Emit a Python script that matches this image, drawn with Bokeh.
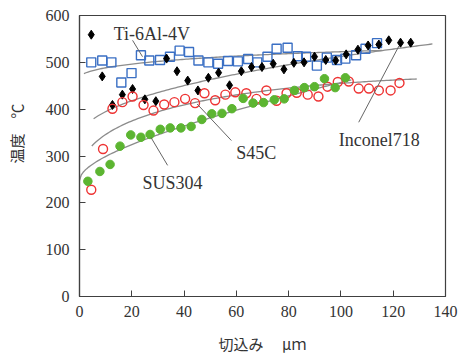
import numpy as np
from bokeh.plotting import figure
from bokeh.models import Range1d, FixedTicker, ColumnDataSource
from bokeh.core.properties import value
from bokeh.embed import file_html
from bokeh.resources import INLINE

# ---- data ----
ti_x = [4.5, 8.7, 12.2, 16.0, 19.9, 23.5, 26.7, 30.8, 34.6, 38.3, 41.9, 45.5, 49.3, 53.0, 56.8,
        60.6, 64.5, 68.0, 71.9, 75.4, 79.6, 83.5, 86.7, 90.8, 94.6, 98.5, 101.7, 105.8, 109.4, 113.8]
ti_y = [500, 504, 500, 457, 477, 515, 504, 505, 512, 525, 522, 504, 500, 497, 503,
        502, 507, 500, 512, 529, 531, 513, 512, 493, 510, 505, 508, 515, 529, 541]

inc_x = [4.5, 8.7, 12.6, 16.4, 20.3, 25.0, 29.2, 33.3, 37.3, 41.4, 45.3, 49.3, 53.2, 57.4, 61.9, 65.8,
         69.8, 74.1, 78.2, 82.0, 85.9, 89.9, 94.2, 98.0, 102.0, 106.5, 110.4, 114.5, 118.3, 122.8, 126.7]
inc_y = [559, 470, 409, 431, 443, 421, 417, 508, 481, 461, 440, 467, 478, 451, 481, 490,
         490, 497, 485, 499, 500, 512, 505, 504, 517, 527, 536, 538, 547, 542, 542]

s45_x = [4.5, 9.0, 12.6, 16.4, 20.3, 24.5, 28.3, 32.4, 36.3, 40.4, 44.2, 47.8, 51.9, 55.8, 59.6, 63.8,
         67.7, 71.5, 75.4, 79.2, 83.1, 87.3, 91.4, 94.9, 98.8, 103.0, 106.8, 110.7, 114.5, 119.0, 122.4]
s45_y = [228, 315, 401, 415, 427, 409, 397, 410, 415, 422, 413, 434, 419, 431, 436, 434,
         422, 440, 418, 434, 435, 431, 427, 448, 458, 459, 444, 444, 440, 440, 456]

sus_x = [3.2, 7.8, 11.7, 15.5, 19.6, 23.5, 27.0, 30.9, 34.7, 38.8, 42.7, 46.8, 50.6, 54.5, 58.3, 62.6,
         66.4, 70.4, 74.5, 78.3, 82.2, 86.0, 89.9, 93.7, 97.8, 101.7]
sus_y = [246, 267, 282, 321, 345, 340, 346, 357, 360, 360, 363, 378, 390, 391, 401, 423,
         413, 414, 420, 422, 440, 446, 448, 465, 446, 467]

# trend curves: points
ti_curve_x = [1.7, 36, 73.5, 115.8]
ti_curve_y = [476, 504, 518, 525]
inc_curve_x = [5.4, 38, 73.5, 135]
inc_curve_y = [379, 450, 486, 540]
s45_curve_x = [4.7, 45, 73.5, 129]
s45_curve_y = [322, 411, 446, 463]
sus_curve_x = [0, 27.3, 36.9, 75.4, 104]
sus_curve_y = [248, 338, 358, 426, 460]

x_ticks = [0, 20, 40, 60, 80, 100, 120, 140]
y_ticks = [0, 100, 200, 300, 400, 500, 600]

label_text = ["Ti-6Al-4V", "S45C", "SUS304", "Inconel718"]
label_x = [13.1, 60.0, 24.1, 99.2]
label_y = [560, 306, 243, 334]
leader_x0 = [20.3, 45.0, 27.3, 106.8]
leader_y0 = [547, 411, 340, 372]
leader_x1 = [24.1, 58.1, 33.7, 122.2]
leader_y1 = [512, 333, 280, 535]

# ---- figure ----
p = figure(width=458, height=359, output_backend="svg", toolbar_location=None,
           x_range=Range1d(0, 140), y_range=Range1d(0, 600),
           min_border_left=79, min_border_right=13, min_border_top=15, min_border_bottom=63)
p.background_fill_color = "white"
p.border_fill_color = "white"
p.outline_line_color = "#404040"
p.outline_line_width = 1.2
p.xgrid.visible = False
p.ygrid.visible = False

serif = "'Liberation Serif'"
cjk = "'Noto Sans CJK JP'"
for ax in (p.xaxis[0], p.yaxis[0]):
    ax.axis_line_color = "#404040"
    ax.axis_line_width = 1.2
    ax.major_tick_in = 6
    ax.major_tick_out = 0
    ax.major_tick_line_color = "#404040"
    ax.minor_tick_line_color = None
    ax.major_label_text_font = serif
    ax.major_label_text_font_size = "16px"
    ax.major_label_text_color = "#333333"
    ax.axis_label_text_font = cjk
    ax.axis_label_text_font_size = "15px"
    ax.axis_label_text_font_style = "normal"
    ax.axis_label_text_color = "#333333"

p.xaxis.ticker = FixedTicker(ticks=x_ticks)
p.yaxis.ticker = FixedTicker(ticks=y_ticks)
p.xaxis.major_label_standoff = 9
p.yaxis.major_label_standoff = 10
p.xaxis.axis_label = "切込み　 μｍ"
p.yaxis.axis_label = "　　　温度　℃"
p.xaxis.axis_label_standoff = 13
p.yaxis.axis_label_standoff = 16

# ---- smooth grey trend curves through the read points ----
def smooth(cx, cy):
    cx = np.asarray(cx, float)
    c = np.polyfit(np.sqrt(cx), cy, 2)
    xx = np.linspace(cx[0], cx[-1], 150)
    return xx, np.polyval(c, np.sqrt(xx))

for cx, cy in ((ti_curve_x, ti_curve_y), (inc_curve_x, inc_curve_y),
               (s45_curve_x, s45_curve_y), (sus_curve_x, sus_curve_y)):
    xx, yy = smooth(cx, cy)
    p.line(xx, yy, line_color="#8c8c8c", line_width=1.3)

# ---- markers ----
p.scatter(ti_x, ti_y, marker="square", size=9, fill_color=None, line_color="#3a6fc4", line_width=1.4)
p.scatter(inc_x, inc_y, marker="diamond", size=9, fill_color="black", line_color="black")
p.scatter(s45_x, s45_y, marker="circle", size=9, fill_color=None, line_color="#ee3333", line_width=1.4)
p.scatter(sus_x, sus_y, marker="circle", size=8.5, fill_color="#5cb531", line_color="#5cb531")

# ---- labels & leaders ----
p.segment(leader_x0, leader_y0, leader_x1, leader_y1, line_color="#666666", line_width=1)
src = ColumnDataSource(dict(x=label_x, y=label_y, t=label_text))
p.text(x="x", y="y", text="t", source=src, text_font=value(serif), text_font_size="18px",
       text_color="#333333", text_baseline="middle", text_align="left")

open("out.html", "w").write(file_html(p, INLINE))
